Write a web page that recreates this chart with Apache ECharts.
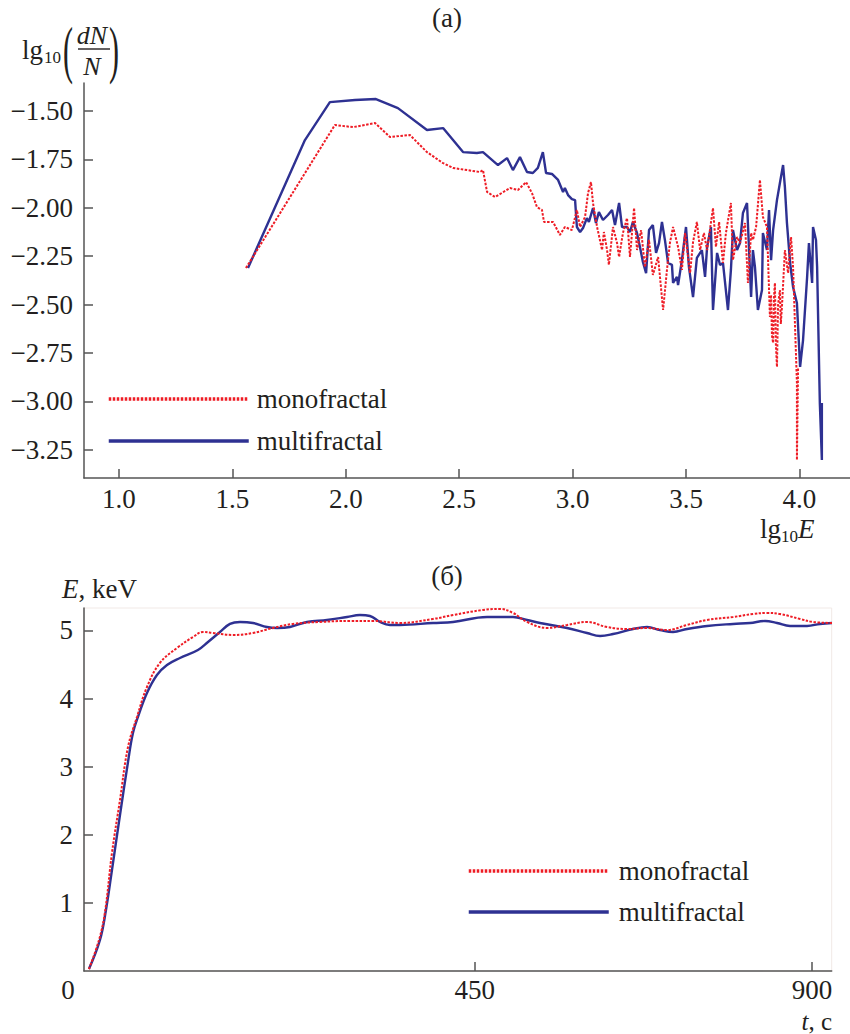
<!DOCTYPE html>
<html>
<head>
<meta charset="utf-8">
<script src="https://cdn.jsdelivr.net/npm/echarts@6/dist/echarts.min.js"></script>
<style>html,body{margin:0;padding:0;background:#fff}#c{width:850px;height:1034px}</style>
</head>
<body>
<div id="c"></div>
<script>
// ---- Panel (а): spectrum lg10(dN/N) vs lg10 E ----
const specXTicks = [1.0, 1.5, 2.0, 2.5, 3.0, 3.5, 4.0];
const specYTicks = [-1.5, -1.75, -2.0, -2.25, -2.5, -2.75, -3.0, -3.25];
const specMono = [
[1.560,-2.311],[1.952,-1.572],[2.032,-1.583],[2.129,-1.562],[2.195,-1.634],[2.283,-1.624],[2.358,-1.712],
[2.429,-1.769],[2.473,-1.794],[2.592,-1.815],[2.605,-1.805],[2.623,-1.918],[2.658,-1.944],[2.724,-1.898],
[2.759,-1.908],[2.795,-1.867],[2.821,-1.924],[2.843,-1.996],[2.865,-2.011],[2.874,-2.073],[2.914,-2.073],
[2.944,-2.140],[2.966,-2.099],[2.997,-2.115],[3.019,-2.011],[3.033,-2.099],[3.055,-2.047],[3.068,-1.924],
[3.081,-1.867],[3.090,-1.975],[3.108,-2.099],[3.130,-2.218],[3.138,-2.125],[3.152,-2.218],[3.160,-2.295],
[3.178,-2.099],[3.196,-2.182],[3.205,-2.254],[3.222,-2.130],[3.240,-2.053],[3.253,-2.254],[3.271,-2.001],
[3.284,-2.218],[3.302,-2.115],[3.319,-2.306],[3.337,-2.166],[3.354,-2.347],[3.377,-2.254],[3.399,-2.528],
[3.416,-2.321],[3.429,-2.182],[3.443,-2.099],[3.465,-2.202],[3.482,-2.321],[3.496,-2.130],[3.518,-2.337],
[3.531,-2.177],[3.548,-2.073],[3.562,-2.218],[3.579,-2.130],[3.593,-2.218],[3.619,-2.001],[3.632,-2.202],
[3.646,-2.073],[3.663,-2.285],[3.676,-2.130],[3.698,-1.975],[3.707,-2.270],[3.725,-2.151],[3.738,-2.182],
[3.760,-2.078],[3.773,-2.388],[3.787,-2.130],[3.795,-2.166],[3.809,-2.099],[3.826,-1.856],[3.839,-2.047],
[3.857,-2.099],[3.870,-2.564],[3.875,-2.45],[3.879,-2.66],[3.884,-2.698],[3.888,-2.46],[3.892,-2.388],
[3.896,-2.70],[3.901,-2.822],[3.906,-2.50],[3.914,-2.425],[3.918,-2.60],[3.923,-2.512],[3.936,-2.218],
[3.950,-2.337],[3.963,-2.151],[3.972,-2.306],[3.989,-2.905],[3.989,-3.303],[3.994,-2.822]
];
const specMulti = [
[1.569,-2.311],[1.820,-1.650],[1.930,-1.454],[2.041,-1.443],[2.133,-1.438],[2.230,-1.485],[2.358,-1.598],
[2.429,-1.588],[2.517,-1.712],[2.578,-1.717],[2.605,-1.712],[2.671,-1.779],[2.711,-1.743],[2.737,-1.805],
[2.768,-1.738],[2.799,-1.815],[2.825,-1.820],[2.847,-1.794],[2.869,-1.712],[2.883,-1.820],[2.909,-1.825],
[2.936,-1.856],[2.958,-1.918],[2.966,-1.898],[2.980,-1.934],[2.997,-1.955],[3.011,-1.960],[3.019,-2.099],
[3.033,-2.125],[3.046,-2.104],[3.063,-2.053],[3.072,-2.073],[3.090,-2.001],[3.103,-2.078],[3.116,-2.022],
[3.134,-2.063],[3.156,-2.037],[3.174,-2.011],[3.187,-2.089],[3.205,-1.975],[3.218,-2.099],[3.240,-2.099],
[3.253,-2.125],[3.266,-2.073],[3.284,-2.130],[3.297,-2.202],[3.310,-2.280],[3.324,-2.337],[3.337,-2.115],
[3.354,-2.089],[3.368,-2.233],[3.381,-2.182],[3.394,-2.073],[3.407,-2.166],[3.421,-2.285],[3.438,-2.295],
[3.443,-2.388],[3.460,-2.357],[3.465,-2.399],[3.482,-2.270],[3.500,-2.099],[3.513,-2.306],[3.531,-2.461],
[3.548,-2.259],[3.570,-2.218],[3.584,-2.357],[3.593,-2.202],[3.610,-2.099],[3.619,-2.528],[3.637,-2.233],
[3.650,-2.295],[3.663,-2.285],[3.685,-2.528],[3.698,-2.321],[3.707,-2.115],[3.725,-2.218],[3.738,-2.182],
[3.751,-2.027],[3.769,-1.975],[3.787,-2.461],[3.795,-2.218],[3.804,-2.306],[3.817,-2.528],[3.835,-2.425],
[3.839,-2.130],[3.857,-2.218],[3.866,-2.011],[3.875,-2.270],[3.884,-2.115],[3.901,-1.960],[3.914,-1.872],
[3.928,-1.779],[3.936,-1.893],[3.945,-2.078],[3.959,-2.285],[3.972,-2.409],[3.989,-2.492],[4.003,-2.822],
[4.016,-2.683],[4.034,-2.357],[4.042,-2.182],[4.056,-2.388],[4.060,-2.099],[4.073,-2.166],[4.078,-2.306],
[4.090,-3.008],[4.099,-3.303],[4.099,-3.008]
];

// ---- Panel (б): mean energy E (keV) vs time t (s) ----
const timeTicks = [450, 900];
const energyTicks = [1, 2, 3, 4, 5];
const energyMono = [
[-64.6,0.029],[-51.2,0.455],[-43.2,0.866],[-33.9,1.733],[-23.2,2.511],[-12.5,3.289],[-0.5,3.730],
[12.8,4.170],[30.1,4.523],[52.8,4.743],[74.2,4.904],[87.5,4.978],[100.9,4.963],[127.5,4.934],[154.2,4.963],
[180.9,5.037],[207.5,5.096],[243.5,5.125],[283.6,5.140],[314.3,5.140],[350.3,5.110],[394.4,5.169],
[421.1,5.227],[461.1,5.301],[483.8,5.316],[501.1,5.257],[519.8,5.125],[546.4,5.037],[573.2,5.081],
[599.8,5.125],[626.5,5.051],[653.2,5.022],[679.9,5.037],[706.6,5.007],[733.2,5.081],[759.9,5.154],
[794.6,5.198],[821.2,5.242],[839.9,5.257],[857.3,5.242],[884.0,5.169],[901.3,5.125],[926.6,5.110]
];
const energyMulti = [
[-64.6,0.029],[-49.9,0.455],[-41.9,0.896],[-33.9,1.483],[-23.2,2.291],[-12.5,3.069],[-5.9,3.495],
[0.8,3.730],[12.8,4.082],[26.1,4.346],[39.5,4.493],[56.8,4.596],[80.8,4.714],[94.2,4.831],[110.2,4.978],
[123.5,5.096],[136.9,5.125],[154.2,5.110],[172.9,5.051],[186.2,5.037],[203.6,5.051],[226.3,5.125],
[252.9,5.154],[279.6,5.198],[296.9,5.227],[310.3,5.213],[323.6,5.125],[337.0,5.081],[350.3,5.081],
[394.4,5.110],[421.1,5.125],[466.4,5.198],[501.1,5.198],[519.8,5.154],[537.1,5.110],[573.2,5.037],
[599.8,4.963],[617.2,4.919],[634.5,4.948],[661.2,5.022],[679.9,5.051],[697.2,5.007],[714.6,4.978],
[733.2,5.022],[759.9,5.066],[794.6,5.096],[817.3,5.110],[837.3,5.140],[853.3,5.110],[870.6,5.066],
[893.3,5.066],[910.6,5.096],[926.6,5.110]
];
const seriesNames = ['monofractal', 'multifractal'];

const FONT = '"Liberation Serif", "Times New Roman", serif';
const TXT = '#231f20';
const RED = '#ee1c25';
const BLUE = '#2e3192';
const AX = '#555555';

const chart = echarts.init(document.getElementById('c'), null, {renderer: 'svg'});

function minusFmt(d) {
  return v => (v < 0 ? '\u2212' : '') + Math.abs(v).toFixed(d);
}
const axisCommon = {
  axisLine: {onZero: false, lineStyle: {color: AX, width: 1.5}},
  axisTick: {inside: true, length: 9, lineStyle: {color: AX, width: 1.5}},
  splitLine: {show: false}
};
const lblStyle = {color: TXT, fontFamily: FONT, fontSize: 27};

function txt(x, y, text, opt) {
  opt = opt || {};
  return {
    type: 'text', x: x, y: y, scaleY: opt.scaleY || 1, silent: true,
    style: {
      text: text, fill: TXT,
      font: (opt.italic ? 'italic ' : '') + (opt.size || 27) + 'px ' + FONT,
      align: opt.align || 'left', verticalAlign: 'middle'
    }
  };
}
const legendCommon = {
  orient: 'vertical', itemWidth: 140, itemHeight: 14, padding: 0,
  data: seriesNames, selectedMode: false,
  itemStyle: {opacity: 0, borderWidth: 0},
  lineStyle: {width: 3.5}
};

const option = {
  animation: false,
  backgroundColor: '#fff',
  grid: [
    {left: 84, right: 0, top: 83, bottom: 556, outerBoundsMode: 'none'},
    {left: 84, right: 18.3, top: 608, bottom: 63, outerBoundsMode: 'none',
     show: true, borderColor: '#f1e9e6', borderWidth: 1}
  ],
  xAxis: [
    Object.assign({}, axisCommon, {
      type: 'value', gridIndex: 0, min: 0.846, max: 4.223,
      axisTick: Object.assign({}, axisCommon.axisTick, {customValues: specXTicks}),
      axisLabel: Object.assign({}, lblStyle, {customValues: specXTicks, margin: 9, lineHeight: 24,
        formatter: v => v.toFixed(1)})
    }),
    Object.assign({}, axisCommon, {
      type: 'value', gridIndex: 1, min: -71.2, max: 926.2,
      axisTick: Object.assign({}, axisCommon.axisTick, {customValues: timeTicks}),
      axisLabel: Object.assign({}, lblStyle, {customValues: timeTicks, margin: 7, lineHeight: 24})
    })
  ],
  yAxis: [
    Object.assign({}, axisCommon, {
      type: 'value', gridIndex: 0, min: -3.396, max: -1.355,
      axisTick: Object.assign({}, axisCommon.axisTick, {customValues: specYTicks}),
      axisLabel: Object.assign({}, lblStyle, {customValues: specYTicks, margin: 11,
        formatter: minusFmt(2)})
    }),
    Object.assign({}, axisCommon, {
      type: 'value', gridIndex: 1, min: 0, max: 5.33,
      axisTick: Object.assign({}, axisCommon.axisTick, {customValues: energyTicks}),
      axisLabel: Object.assign({}, lblStyle, {customValues: energyTicks, margin: 11})
    })
  ],
  legend: [
    Object.assign({}, legendCommon, {left: 107, top: 384, itemGap: 12,
     textStyle: {color: TXT, fontFamily: FONT, fontSize: 27, lineHeight: 30, padding: [0, 0, 0, 3]}}),
    Object.assign({}, legendCommon, {left: 467, top: 856, itemGap: 11,
     textStyle: {color: TXT, fontFamily: FONT, fontSize: 27, lineHeight: 30, padding: [0, 0, 0, 5]}})
  ],
  series: [
    {name: seriesNames[0], type: 'line', xAxisIndex: 0, yAxisIndex: 0, data: specMono,
     symbol: 'none', z: 3, lineStyle: {color: RED, width: 2, type: [2.5, 1.5]}, itemStyle: {color: RED}},
    {name: seriesNames[1], type: 'line', xAxisIndex: 0, yAxisIndex: 0, data: specMulti,
     symbol: 'none', z: 2, lineStyle: {color: BLUE, width: 2.4}, itemStyle: {color: BLUE}},
    {name: seriesNames[0], type: 'line', xAxisIndex: 1, yAxisIndex: 1, data: energyMono, smooth: 0.4,
     symbol: 'none', z: 3, lineStyle: {color: RED, width: 2, type: [2.5, 1.5]}, itemStyle: {color: RED}},
    {name: seriesNames[1], type: 'line', xAxisIndex: 1, yAxisIndex: 1, data: energyMulti, smooth: 0.4,
     symbol: 'none', z: 2, lineStyle: {color: BLUE, width: 2.4}, itemStyle: {color: BLUE}}
  ],
  graphic: [
    txt(447, 18, '(\u0430)', {align: 'center'}),
    txt(447, 576, '(\u0431)', {align: 'center'}),
    // y name panel (а): lg10(dN/N)
    txt(22, 50, 'lg'),
    txt(44, 57, '10', {size: 17}),
    txt(63, 50, '(', {size: 30, scaleY: 2.1}),
    txt(92, 35, 'dN', {italic: true, size: 26, align: 'center'}),
    {type: 'line', silent: true, shape: {x1: 78, y1: 49, x2: 110, y2: 49}, style: {stroke: TXT, lineWidth: 1.4}},
    txt(92, 66, 'N', {italic: true, size: 26, align: 'center'}),
    txt(109, 50, ')', {size: 30, scaleY: 2.1}),
    // x name panel (а): lg10E
    txt(760, 529, 'lg'),
    txt(781, 536, '10', {size: 17}),
    txt(798, 529, 'E', {italic: true}),
    // panel (б) names
    {type: 'text', x: 62, y: 589, silent: true,
     style: {text: '{i|E}{n|, keV}', verticalAlign: 'middle', align: 'left',
       rich: {i: {fontFamily: FONT, fontSize: 27, fontStyle: 'italic', fill: TXT},
              n: {fontFamily: FONT, fontSize: 27, fill: TXT}}}},
    {type: 'text', x: 832, y: 1021, silent: true,
     style: {text: '{i|t}{n|, c}', verticalAlign: 'middle', align: 'right',
       rich: {i: {fontFamily: FONT, fontSize: 25, lineHeight: 24, fontStyle: 'italic', fill: TXT},
              n: {fontFamily: FONT, fontSize: 25, lineHeight: 24, fill: TXT}}}},
    txt(68, 990, '0', {align: 'center'})
  ]
};
chart.setOption(option);
</script>
</body>
</html>
